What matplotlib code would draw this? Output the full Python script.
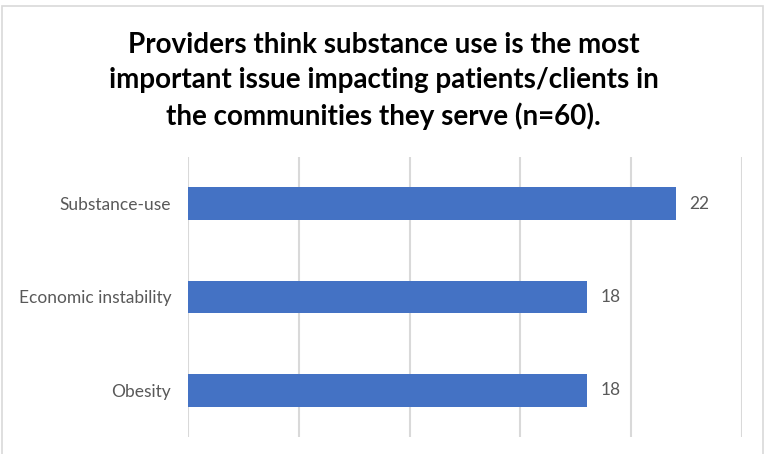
import matplotlib
matplotlib.use('Agg')
import matplotlib.pyplot as plt
from matplotlib.patches import Rectangle

# data
categories = ['Substance-use', 'Economic instability', 'Obesity']
counts = [22, 18, 18]
title = ('Providers think substance use is the most\n'
         'important issue impacting patients/clients in\n'
         'the communities they serve (n=60).')

plt.rcParams['font.family'] = ['Lato', 'DejaVu Sans']

fig = plt.figure(figsize=(7.67, 4.54), dpi=100)
ax = fig.add_axes([188 / 767, 17 / 454, 554 / 767, 280 / 454])

ypos = list(range(len(categories)))
bars = ax.barh(ypos, counts, height=0.35, color='#4472C4', zorder=3)
ax.set_xlim(0, 25)
ax.set_ylim(2.5, -0.5)
ax.set_xticks([0, 5, 10, 15, 20, 25])
ax.set_xticklabels([])
ax.tick_params(axis='x', length=0)
ax.tick_params(axis='y', length=0, pad=12, labelsize=12.5, labelcolor='#595959')
ax.set_yticks(ypos)
ax.set_yticklabels(categories)
ax.grid(axis='x', color='#d9d9d9', linewidth=1.5, zorder=0)
for s in ax.spines.values():
    s.set_visible(False)

for b, v in zip(bars, counts):
    ax.text(v + 0.6, b.get_y() + b.get_height() / 2, str(v),
            va='center', ha='left', fontsize=12.5, color='#595959')

fig.text(0.5, 1 - 81 / 454, title, ha='center', va='center', fontsize=20,
         fontweight='bold', linespacing=1.42, color='black')

# chart border
fig.patches.append(Rectangle((2 / 767, -0.05), 761 / 767, 1.05 - 6 / 454,
                             transform=fig.transFigure, fill=False,
                             edgecolor='#d9d9d9', linewidth=1.2))

fig.savefig('out.png', dpi=100)
